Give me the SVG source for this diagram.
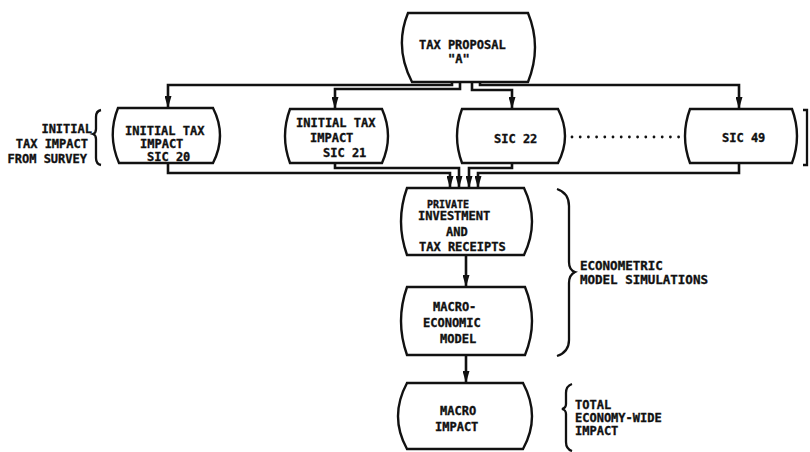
<svg xmlns="http://www.w3.org/2000/svg" width="810" height="452" viewBox="0 0 810 452">
<style>
.box{fill:#fff;stroke:#111;stroke-width:2.4}
.con{fill:none;stroke:#111;stroke-width:2.6}
.brace{fill:none;stroke:#111;stroke-width:2.3}
text{font-family:"DejaVu Sans Mono","Liberation Mono",monospace;font-weight:bold;font-size:12px;fill:#111;stroke:#111;stroke-width:0.35}
.dots{stroke:#111;stroke-width:2.8;stroke-linecap:round;stroke-dasharray:0 8.2}
</style>
<defs>
<marker id="ah" viewBox="0 0 12 7" refX="12" refY="3.5" markerWidth="12" markerHeight="7" markerUnits="userSpaceOnUse" orient="auto">
<path d="M0,0 L12,3.5 L0,7 Z" fill="#111"/>
</marker>
</defs>
<rect width="810" height="452" fill="#fff"/>
<g id="connectors">
<path class="con" d="M452,82 V85 H168 V108" marker-end="url(#ah)"/>
<path class="con" d="M460,82 V89 H335 V109" marker-end="url(#ah)"/>
<path class="con" d="M472,82 V90 H512 V109" marker-end="url(#ah)"/>
<path class="con" d="M480,82 V85 H739 V109" marker-end="url(#ah)"/>
<path class="con" d="M168,163 V173 H450 V188" marker-end="url(#ah)"/>
<path class="con" d="M335,163 V168 H459 V188" marker-end="url(#ah)"/>
<path class="con" d="M512,163 V168 H469 V188" marker-end="url(#ah)"/>
<path class="con" d="M739,163 V173 H478 V188" marker-end="url(#ah)"/>
<path class="con" d="M466,255 V287" marker-end="url(#ah)"/>
<path class="con" d="M466,355 V383" marker-end="url(#ah)"/>
</g>
<g id="tax-proposal">
<path class="box" d="M408,13 H528 Q542,47 528,82 H412 Q394,47 408,13 Z"/>
<text x="419" y="49">TAX PROPOSAL</text>
<text x="448" y="63">"A"</text>
</g>
<g id="sic20">
<path class="box" d="M118,108 H213 Q227,135.5 213,163 H119 Q107,135.5 118,108 Z"/>
<text x="125" y="135">INITIAL TAX</text>
<text x="140" y="148">IMPACT</text>
<text x="147" y="161">SIC 20</text>
</g>
<g id="sic21">
<path class="box" d="M290,109 H382 Q394,136 382,163 H290 Q280,136 290,109 Z"/>
<text x="296" y="127">INITIAL TAX</text>
<text x="310" y="142">IMPACT</text>
<text x="323" y="157">SIC 21</text>
</g>
<g id="sic22">
<path class="box" d="M462,109 H558 Q572,136 558,163 H462 Q452,136 462,109 Z"/>
<text x="494" y="143">SIC 22</text>
</g>
<g id="sic49">
<path class="box" d="M690,109 H792 Q802,136 792,163 H690 Q680,136 690,109 Z"/>
<text x="722" y="142">SIC 49</text>
</g>
<g id="private-investment">
<path class="box" d="M407,188 H524 Q540,221.5 524,255 H407 Q395,221.5 407,188 Z"/>
<text x="427" y="208" style="font-size:10px">PRIVATE</text>
<text x="418" y="220">INVESTMENT</text>
<text x="446" y="236">AND</text>
<text x="419" y="251">TAX RECEIPTS</text>
</g>
<g id="macro-model">
<path class="box" d="M407,287 H525 Q539,321 525,355 H407 Q395,321 407,287 Z"/>
<text x="433" y="311">MACRO-</text>
<text x="423" y="327">ECONOMIC</text>
<text x="440" y="343">MODEL</text>
</g>
<g id="macro-impact">
<path class="box" d="M407,383 H523 Q541,416.5 523,449 H407 Q389,416.5 407,383 Z"/>
<text x="440" y="415">MACRO</text>
<text x="435" y="431">IMPACT</text>
</g>
<g id="annotations">
<line class="dots" x1="572" y1="137" x2="682" y2="137"/>
<text x="92" y="133" text-anchor="end">INITIAL</text>
<text x="88" y="148" text-anchor="end">TAX IMPACT</text>
<text x="87" y="163" text-anchor="end">FROM SURVEY</text>
<path class="brace" d="M101,110 Q96,111 96,117 V129 Q96,133 93,134 Q96,135 96,139 V158 Q96,164 101,165"/>
<path class="brace" d="M803,110 H807 V165 H803"/>
<path class="brace" d="M557,189 Q569,193 569,206 V262 Q569,270 575,272 Q569,275 569,283 V340 Q569,352 557,356"/>
<text x="580" y="270" style="font-size:12.5px">ECONOMETRIC</text>
<text x="580" y="284" style="font-size:12.5px">MODEL SIMULATIONS</text>
<path class="brace" d="M572,384 Q566,386 566,393 V404 Q566,408 562,409 Q566,410 566,414 V442 Q566,449 572,451"/>
<text x="575" y="409">TOTAL</text>
<text x="575" y="422">ECONOMY-WIDE</text>
<text x="575" y="435">IMPACT</text>
</g>
</svg>
